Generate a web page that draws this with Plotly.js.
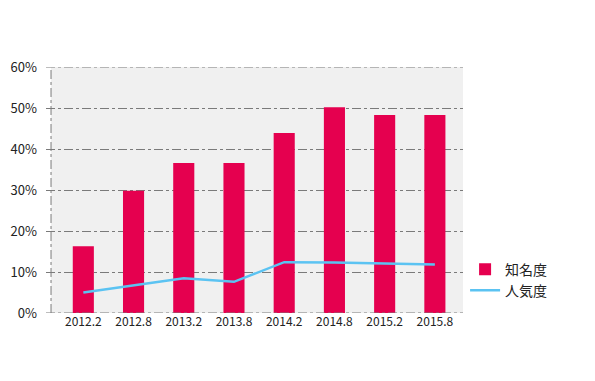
<!DOCTYPE html>
<html><head><meta charset="utf-8">
<script src="https://cdn.plot.ly/plotly-3.0.1.min.js"></script>
<style>html,body{margin:0;padding:0;background:#fff}#c{width:595px;height:381px}</style>
</head><body><div id="c"></div>
<script>
const categories = ["2012.2","2012.8","2013.2","2013.8","2014.2","2014.8","2015.2","2015.8"];
const awareness = [16.3, 29.8, 36.6, 36.6, 43.9, 50.2, 48.3, 48.3];
const popularity = [5.0, 6.8, 8.5, 7.6, 12.4, 12.3, 12.0, 11.8];
const yTicks = [0,10,20,30,40,50,60];
const yTickText = ["0%","10%","20%","30%","40%","50%","60%"];
const seriesNames = ["知名度","人気度"];

const idx = categories.map((_, i) => i);
const font = "'Noto Sans CJK JP', 'Noto Sans', sans-serif";
const yMin = yTicks[0], yMax = yTicks[yTicks.length - 1];

const edgeLines = [yMin, yMax].map(v => ({type:'line', layer:'above', xref:'paper', yref:'y', x0:0, x1:1, y0:v, y1:v, line:{color:'#7a7a7a', width:1, dash:'dashdot'}}));

Plotly.newPlot('c', [
  {type:'bar', x: idx, y: awareness, name: seriesNames[0], marker:{color:'#e5004f'}},
  {type:'scatter', mode:'lines', x: idx, y: popularity, name: seriesNames[1], line:{color:'#5bc3f2', width:2.5}}
], {
  width:595, height:381,
  margin:{l:46, r:132, t:67, b:68},
  paper_bgcolor:'#fff', plot_bgcolor:'#fff',
  bargap:0.58,
  showlegend:true,
  legend:{x:1.005, y:0.134, xanchor:'left', yanchor:'middle', font:{family:font, size:14, color:'#222'}, tracegroupgap:0, itemwidth:30},
  xaxis:{range:[-0.743, 7.56], tickmode:'array', tickvals: idx, ticktext: categories, showgrid:false, zeroline:false, showline:false, ticks:'', tickfont:{family:font, size:12, color:'#222'}, fixedrange:true},
  yaxis:{range:[yMin,yMax], tickmode:'array', tickvals:yTicks, ticktext:yTickText, showgrid:true, gridcolor:'#7a7a7a', griddash:'dashdot', gridwidth:1, zeroline:false, showline:false, ticks:'', ticklabelstandoff:8, tickfont:{family:font, size:13, color:'#222'}},
  shapes:[
    {type:'rect', layer:'below', xref:'x', yref:'y', x0:-0.643, x1:7.56, y0:yMin, y1:yMax, fillcolor:'#f0f0f0', line:{width:0}},
    {type:'line', layer:'above', xref:'x', yref:'y', x0:-0.643, x1:-0.643, y0:yMin, y1:yMax, line:{color:'#7a7a7a', width:1, dash:'dashdot'}}
  ].concat(edgeLines)
}, {displayModeBar:false, staticPlot:true});
</script></body></html>
